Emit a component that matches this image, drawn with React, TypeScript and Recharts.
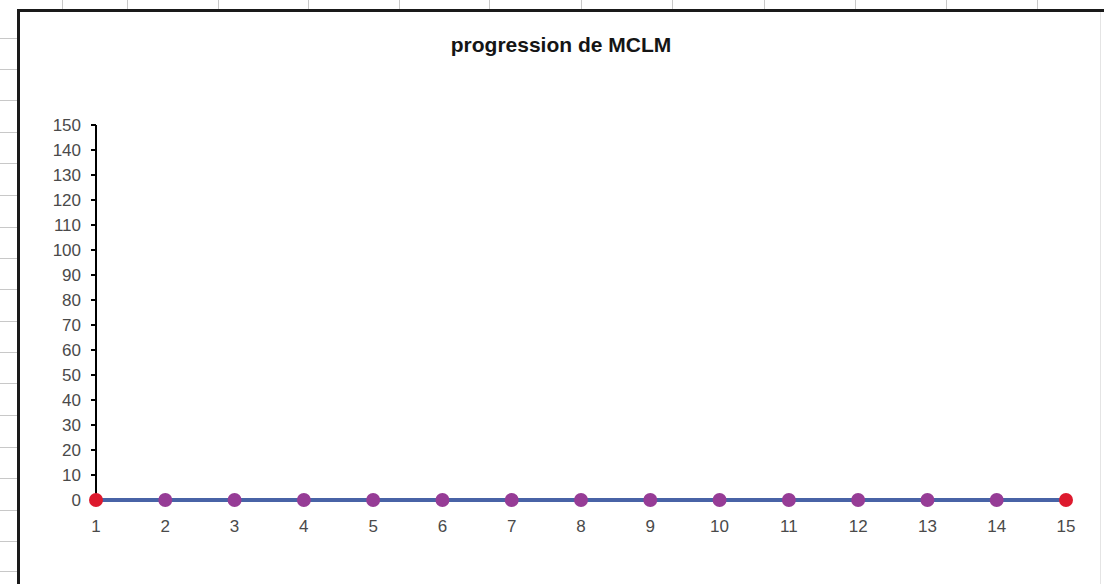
import React from 'react';
import { LineChart, Line, XAxis, YAxis } from 'recharts';

// one point per trial, all readings at zero
const trials = ['1', '2', '3', '4', '5', '6', '7', '8', '9', '10', '11', '12', '13', '14', '15'];
const mclmValues = [0, 0, 0, 0, 0, 0, 0, 0, 0, 0, 0, 0, 0, 0, 0];
const yTicks = [0, 10, 20, 30, 40, 50, 60, 70, 80, 90, 100, 110, 120, 130, 140, 150];

// spreadsheet cell borders visible around the chart object
const rowLines = [38, 69, 100, 132, 163, 195, 227, 258, 289, 321, 352, 383, 415, 447, 478, 510, 541, 571];
const colLines = [62, 127, 218, 308, 399, 489, 581, 672, 764, 855, 946, 1037];

const data = trials.map((t, i) => ({ trial: t, mclm: mclmValues[i] }));

const FONT = '"Liberation Sans", Arial, sans-serif';

const MarkerDot = (props: any) => {
  const { cx, cy, index } = props;
  if (cx == null || cy == null) return null;
  const isEnd = index === 0 || index === data.length - 1;
  return (
    <circle
      key={`dot-${index}`}
      cx={cx}
      cy={cy}
      r={7}
      fill={isEnd ? '#dd1a2e' : '#963c96'}
      stroke="none"
    />
  );
};

export default function App() {
  return (
    <div
      style={{
        position: 'absolute',
        left: 0,
        top: 0,
        width: 1104,
        height: 584,
        background: '#fff',
        overflow: 'hidden',
        fontFamily: FONT
      }}
    >
      {/* sheet grid behind the chart */}
      {rowLines.map(y => (
        <div key={`r${y}`} style={{ position: 'absolute', left: 0, top: y, width: 17, height: 1, background: '#c8c8c8' }} />
      ))}
      {colLines.map(x => (
        <div key={`c${x}`} style={{ position: 'absolute', left: x, top: 0, width: 1, height: 9, background: '#c8c8c8' }} />
      ))}

      {/* chart frame */}
      <div
        style={{
          position: 'absolute',
          left: 17,
          top: 9,
          width: 1100,
          height: 600,
          borderLeft: '3px solid #1a1a1a',
          borderTop: '3px solid #1a1a1a'
        }}
      />
      <div style={{ position: 'absolute', left: 1100, top: 12, width: 1, height: 572, background: '#e4e4e4' }} />

      <div
        style={{
          position: 'absolute',
          left: 0,
          top: 33,
          width: 1122,
          textAlign: 'center',
          fontSize: 21,
          fontWeight: 'bold',
          color: '#151515',
          lineHeight: '24px'
        }}
      >
        progression de MCLM
      </div>

      <div style={{ position: 'absolute', left: 0, top: 0 }}>
        <LineChart width={1104} height={584} data={data} margin={{ top: 125, right: 38, left: 0, bottom: 54 }}>
          <XAxis
            dataKey="trial"
            height={30}
            axisLine={false}
            tickLine={false}
            tickMargin={14}
            tick={{ fontSize: 17, fill: '#4a4a4a', fontFamily: FONT }}
            interval={0}
          />
          <YAxis
            width={96}
            domain={[0, 150]}
            ticks={yTicks}
            interval={0}
            axisLine={{ stroke: '#000', strokeWidth: 2 }}
            tickLine={{ stroke: '#000', strokeWidth: 2 }}
            tickSize={5}
            tickMargin={10}
            tick={{ fontSize: 17, fill: '#4a4a4a', fontFamily: FONT }}
          />
          <Line
            type="linear"
            dataKey="mclm"
            stroke="#4863a6"
            strokeWidth={4}
            dot={MarkerDot}
            activeDot={false}
            isAnimationActive={false}
          />
        </LineChart>
      </div>
    </div>
  );
}
